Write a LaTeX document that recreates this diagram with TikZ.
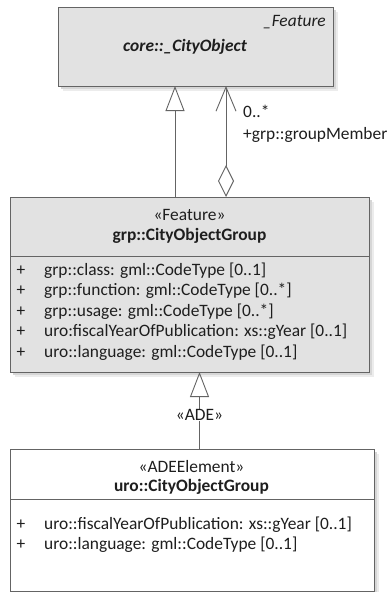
\documentclass[tikz,border=0pt]{standalone}
\usepackage{fontspec}
\setmainfont{Carlito}
\usetikzlibrary{arrows.meta,calc}
\definecolor{boxfill}{RGB}{226,226,226}
\definecolor{boxline}{RGB}{100,100,100}
\definecolor{ink}{RGB}{30,30,30}
\definecolor{shadowA}{RGB}{236,236,236}
\definecolor{shadowB}{RGB}{214,214,214}
\tikzset{
  classbox/.style={draw=boxline, line width=0.9pt, rectangle, inner sep=0pt, outer sep=0pt, anchor=north west},
  txt/.style={text=ink, inner sep=0pt, font=\fontsize{17.4}{20}\selectfont},
  conn/.style={draw=boxline, line width=0.9pt},
  gen/.style={conn, -{Triangle[open, length=25pt, width=19pt]}},
  agg/.style={conn, {Diamond[open, length=32pt, width=16pt]}-{Straight Barb[length=24pt, width=20pt]}},
}
\newcommand{\boxshadow}[1]{%
  \fill[shadowA] ($(#1.south west)+(5,-5)$) rectangle ($(#1.north east)+(5,-5)$);
  \fill[shadowB] ($(#1.south west)+(3,-3)$) rectangle ($(#1.north east)+(3,-3)$);}
\begin{document}
\begin{tikzpicture}[x=1pt,y=1pt]
\useasboundingbox[fill=white] (0,0) rectangle (386,-592);

% core::_CityObject
\coordinate (corepos) at (58,-7);
\node[classbox, minimum width=275pt, minimum height=79pt] (coreS) at (corepos) {};
\boxshadow{coreS}
\node[classbox, fill=boxfill, minimum width=275pt, minimum height=79pt] (core) at (corepos) {};
\node[txt, anchor=mid east, font=\fontsize{17.4}{20}\selectfont\itshape] (coreSt) at (326,-24) {\_Feature};
\node[txt, anchor=mid, font=\fontsize{17.4}{20}\selectfont\bfseries\itshape] (coreN) at (185,-49) {core::\_CityObject};

% grp::CityObjectGroup
\coordinate (grppos) at (10,-197);
\node[classbox, minimum width=359pt, minimum height=175pt] (grpS) at (grppos) {};
\boxshadow{grpS}
\node[classbox, fill=boxfill, minimum width=359pt, minimum height=175pt] (grp) at (grppos) {};
\draw[conn] (10,-256) -- (369,-256);
\node[txt, anchor=mid] (grpSt) at (189.5,-218) {«Feature»};
\node[txt, anchor=mid, font=\fontsize{17.4}{20}\selectfont\bfseries] (grpN) at (189.5,-238) {grp::CityObjectGroup};
\foreach \yy/\t [count=\i] in {273/{grp::class: gml::CodeType [0..1]},
                    293.5/{grp::function: gml::CodeType [0..*]},
                    314/{grp::usage: gml::CodeType [0..*]},
                    334.5/{uro:fiscalYearOfPublication: xs::gYear [0..1]},
                    355/{uro::language: gml::CodeType [0..1]}} {
  \node[txt, anchor=mid] (grpP\i) at (21,-\yy) {+};
  \node[txt, anchor=mid west] (grpA\i) at (44,-\yy) {\t};
}

% uro::CityObjectGroup
\coordinate (uropos) at (10,-449);
\node[classbox, minimum width=364pt, minimum height=142pt] (uroS) at (uropos) {};
\boxshadow{uroS}
\node[classbox, fill=white, minimum width=364pt, minimum height=142pt] (uro) at (uropos) {};
\draw[conn] (10,-499) -- (374,-499);
\node[txt, anchor=mid] (uroSt) at (191.5,-470) {«ADEElement»};
\node[txt, anchor=mid, font=\fontsize{17.4}{20}\selectfont\bfseries] (uroN) at (191.5,-489) {uro::CityObjectGroup};
\foreach \yy/\t [count=\i] in {527/{uro::fiscalYearOfPublication: xs::gYear [0..1]},
                    547/{uro::language: gml::CodeType [0..1]}} {
  \node[txt, anchor=mid] (uroP\i) at (21,-\yy) {+};
  \node[txt, anchor=mid west] (uroA\i) at (44,-\yy) {\t};
}

% connectors
\coordinate (genx) at (175,0);
\coordinate (aggx) at (226,0);
\coordinate (adex) at (199.5,0);
\draw[gen] (grp.north -| genx) -- (core.south -| genx);
\draw[agg] (grp.north -| aggx) -- (core.south -| aggx);
\node[txt, anchor=mid west] (mult) at (243,-115) {0..*};
\node[txt, anchor=mid west] (role) at (243,-137) {+grp::groupMember};
\draw[gen] (uro.north -| adex) -- node[pos=0.44, fill=white, inner sep=1.5pt, txt] (adeL) {«ADE»} (grp.south -| adex);
\end{tikzpicture}
\end{document}
